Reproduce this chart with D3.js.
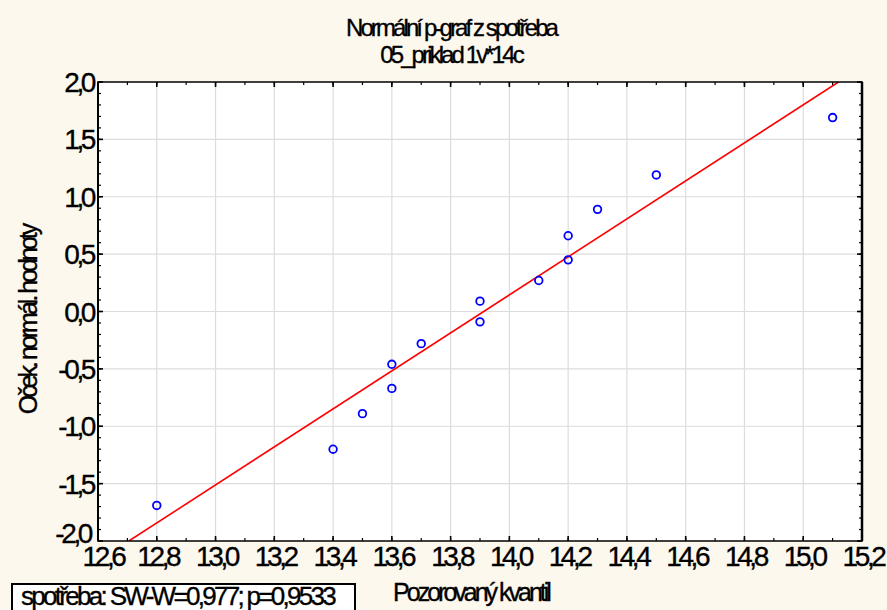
<!DOCTYPE html>
<html>
<head>
<meta charset="utf-8">
<script src="https://cdn.jsdelivr.net/npm/d3@7"></script>
<style>
html,body{margin:0;padding:0;background:#fdf8ee;}
svg{display:block;}
text{font-family:"Liberation Sans",Arial,sans-serif;fill:#000;stroke:#000;stroke-width:0.35px;}
</style>
</head>
<body>
<svg id="chart" width="887" height="610"></svg>
<script>
// Data
const observed = [12.8, 13.4, 13.5, 13.6, 13.6, 13.7, 13.9, 13.9, 14.1, 14.2, 14.2, 14.3, 14.5, 15.1];
const expected = [-1.69, -1.20, -0.89, -0.67, -0.46, -0.28, -0.09, 0.09, 0.27, 0.45, 0.66, 0.89, 1.19, 1.69];
const fitLineX = [12.705, 15.12];
const fitLineY = [-2.0, 2.0];
const xTicks = [12.6, 12.8, 13.0, 13.2, 13.4, 13.6, 13.8, 14.0, 14.2, 14.4, 14.6, 14.8, 15.0, 15.2];
const yTicks = [-2.0, -1.5, -1.0, -0.5, 0.0, 0.5, 1.0, 1.5, 2.0];
const titleLines = ["Normální p-graf z spotřeba", "05_priklad 1v*14c"];
const xLabel = "Pozorovaný kvantil";
const yLabel = "Oček. normál. hodnoty";
const legendText = "spotřeba: SW-W=0,977; p=0,9533";

const svg = d3.select("#chart");
const L = 98, R = 862, T = 82, B = 541;
const x = d3.scaleLinear().domain([12.6, 15.2]).range([L, R]);
const y = d3.scaleLinear().domain([-2, 2]).range([B, T]);
const fmt = d => d.toFixed(1).replace(".", ",");

svg.append("rect").attr("width", 887).attr("height", 610).attr("fill", "#fdf8ee");
svg.append("rect").attr("x", L).attr("y", T).attr("width", R - L).attr("height", B - T).attr("fill", "#fff");

// grid
const grid = svg.append("g").attr("stroke", "#dcdcdc").attr("stroke-width", 1.2);
grid.selectAll(".gx").data(xTicks.slice(1, -1)).join("line")
  .attr("x1", d => x(d)).attr("x2", d => x(d)).attr("y1", T).attr("y2", B);
grid.selectAll(".gy").data(yTicks.slice(1, -1)).join("line")
  .attr("y1", d => y(d)).attr("y2", d => y(d)).attr("x1", L).attr("x2", R);

// clip
svg.append("clipPath").attr("id", "clip").append("rect")
  .attr("x", L).attr("y", T).attr("width", R - L).attr("height", B - T);

// fit line
svg.append("line").attr("clip-path", "url(#clip)")
  .attr("x1", x(fitLineX[0])).attr("y1", y(fitLineY[0]))
  .attr("x2", x(fitLineX[1])).attr("y2", y(fitLineY[1]))
  .attr("stroke", "#ff0000").attr("stroke-width", 1.6);

// points
svg.selectAll(".pt").data(observed.map((v, i) => [v, expected[i]])).join("circle")
  .attr("cx", d => x(d[0])).attr("cy", d => y(d[1])).attr("r", 3.8)
  .attr("fill", "none").attr("stroke", "#0000ff").attr("stroke-width", 1.8);

// inward ticks (minor every 0.1, major at labelled values)
const xMinor = d3.range(126, 153).map(v => v / 10);
const yMinor = d3.range(-20, 21).map(v => v / 10);
const minG = svg.append("g").attr("stroke", "#000").attr("stroke-width", 1.2);
minG.append("g").selectAll("line").data(xMinor).join("line")
  .attr("x1", d => x(d)).attr("x2", d => x(d)).attr("y1", B).attr("y2", B - 3);
minG.append("g").selectAll("line").data(xMinor).join("line")
  .attr("x1", d => x(d)).attr("x2", d => x(d)).attr("y1", T).attr("y2", T + 3);
minG.append("g").selectAll("line").data(yMinor).join("line")
  .attr("y1", d => y(d)).attr("y2", d => y(d)).attr("x1", L).attr("x2", L + 3);
minG.append("g").selectAll("line").data(yMinor).join("line")
  .attr("y1", d => y(d)).attr("y2", d => y(d)).attr("x1", R).attr("x2", R - 3);
const majG = svg.append("g").attr("stroke", "#000").attr("stroke-width", 1.6);
majG.append("g").selectAll("line").data(xTicks).join("line")
  .attr("x1", d => x(d)).attr("x2", d => x(d)).attr("y1", B).attr("y2", B - 5);
majG.append("g").selectAll("line").data(xTicks).join("line")
  .attr("x1", d => x(d)).attr("x2", d => x(d)).attr("y1", T).attr("y2", T + 5);
majG.append("g").selectAll("line").data(yTicks).join("line")
  .attr("y1", d => y(d)).attr("y2", d => y(d)).attr("x1", L).attr("x2", L + 5);
majG.append("g").selectAll("line").data(yTicks).join("line")
  .attr("y1", d => y(d)).attr("y2", d => y(d)).attr("x1", R).attr("x2", R - 5);

// frame
svg.append("rect").attr("x", L).attr("y", T).attr("width", R - L).attr("height", B - T)
  .attr("fill", "none").attr("stroke", "#000").attr("stroke-width", 1.5);
svg.append("line").attr("x1", L).attr("x2", L).attr("y1", T).attr("y2", B)
  .attr("stroke", "#000").attr("stroke-width", 2);
svg.append("line").attr("x1", R).attr("x2", R).attr("y1", T).attr("y2", B)
  .attr("stroke", "#000").attr("stroke-width", 2.5);

// tick labels
svg.append("g").selectAll("text").data(xTicks).join("text")
  .attr("x", (d, i) => x(d) + (i === 0 ? 5 : 1)).attr("y", 566)
  .attr("text-anchor", "middle").attr("font-size", 28).attr("letter-spacing", "-3.4px")
  .text(fmt);
svg.append("g").selectAll("text").data(yTicks).join("text")
  .attr("x", (d, i) => i === 0 ? 90 : 93).attr("y", (d, i) => y(d) + (i === 0 ? 2 : 10))
  .attr("text-anchor", "end").attr("font-size", 28).attr("letter-spacing", "-3.4px")
  .text(fmt);

// titles
svg.append("g").selectAll("text").data(titleLines).join("text")
  .attr("x", 451).attr("y", (d, i) => 36 + i * 27)
  .attr("text-anchor", "middle").attr("font-size", 24).attr("letter-spacing", "-2.9px")
  .text(d => d);

svg.append("text").attr("x", 471).attr("y", 601)
  .attr("text-anchor", "middle").attr("font-size", 25).attr("letter-spacing", "-3px")
  .text(xLabel);

svg.append("text").attr("transform", "translate(37,320) rotate(-90)")
  .attr("text-anchor", "middle").attr("font-size", 25).attr("letter-spacing", "-3px")
  .text(yLabel);

// legend box
svg.append("rect").attr("x", 12).attr("y", 584).attr("width", 343).attr("height", 40)
  .attr("fill", "#fff").attr("stroke", "#000").attr("stroke-width", 2);
svg.append("text").attr("x", 21).attr("y", 605)
  .attr("font-size", 26).attr("letter-spacing", "-2.7px")
  .text(legendText);
</script>
</body>
</html>
